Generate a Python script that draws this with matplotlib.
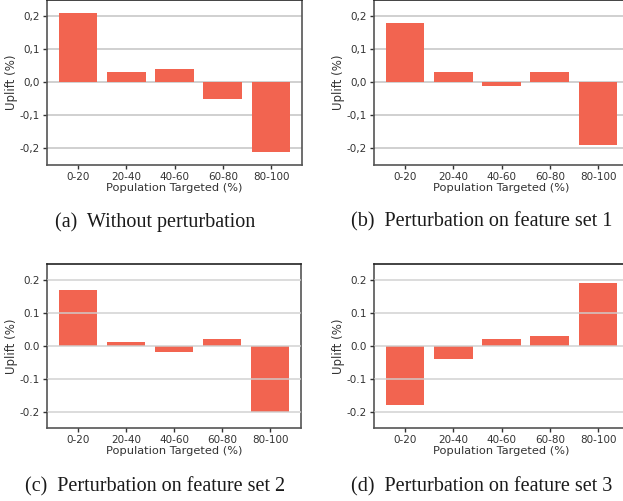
import matplotlib.pyplot as plt
from matplotlib.ticker import FuncFormatter

categories = ["0-20", "20-40", "40-60", "60-80", "80-100"]
uplift_a = [0.21, 0.03, 0.04, -0.05, -0.21]
uplift_b = [0.18, 0.03, -0.01, 0.03, -0.19]
uplift_c = [0.17, 0.01, -0.02, 0.02, -0.20]
uplift_d = [-0.18, -0.04, 0.02, 0.03, 0.19]
captions = ["(a)  Without perturbation", "(b)  Perturbation on feature set 1",
            "(c)  Perturbation on feature set 2", "(d)  Perturbation on feature set 3"]
yticks = [-0.2, -0.1, 0.0, 0.1, 0.2]

W, H = 623, 501
BAR = "#f26450"

plt.rcParams["font.family"] = "DejaVu Sans"
fig = plt.figure(figsize=(W / 100, H / 100), dpi=100)


def add_ax(x0, y0, x1, y1):
    # pixel box, measured from top-left
    return fig.add_axes([x0 / W, 1 - y1 / H, (x1 - x0) / W, (y1 - y0) / H])


def draw(ax, values, comma, grid_on_top):
    ax.bar(categories, values, width=0.8, color=BAR, zorder=2)
    ax.set_ylim(-0.25, 0.25)
    ax.set_yticks(yticks)
    if comma:
        ax.yaxis.set_major_formatter(FuncFormatter(lambda v, p: f"{v:.1f}".replace(".", ",")))
    else:
        ax.yaxis.set_major_formatter(FuncFormatter(lambda v, p: f"{v:.1f}"))
    if grid_on_top:
        ax.yaxis.grid(True, color="#cfcfcf", lw=1.3, alpha=0.8, zorder=3)
        ax.set_axisbelow(False)
    else:
        ax.yaxis.grid(True, color="#c8c8c8", lw=1.2)
        ax.set_axisbelow(True)
    for s in ax.spines.values():
        s.set_color("#555555")
        s.set_linewidth(1.2)
    ax.spines["top"].set_color("#222222")
    ax.tick_params(length=3, width=1, color="#333333", labelcolor="#333333",
                   labelsize=7.5, pad=2)
    ax.set_xlabel("Population Targeted (%)", fontsize=8.2, color="#333333", labelpad=1)
    ax.set_ylabel("Uplift (%)", fontsize=8.5, color="#333333", labelpad=1)


ax_a = add_ax(47, -0.5, 302, 165)
ax_b = add_ax(374, -0.5, 629, 165)
ax_c = add_ax(47, 263.5, 301, 428)
ax_d = add_ax(374, 263.5, 629, 428)

draw(ax_a, uplift_a, True, False)
draw(ax_b, uplift_b, True, False)
draw(ax_c, uplift_c, False, True)
draw(ax_d, uplift_d, False, True)

cap_pos = [(155, 222), (482, 222), (155, 487), (482, 487)]
for (cx, cy), cap in zip(cap_pos, captions):
    fig.text(cx / W, 1 - cy / H, cap, ha="center", va="center",
             fontsize=14.5, family="Liberation Serif", color="#1a1a1a")

fig.savefig("out.png", dpi=100)
